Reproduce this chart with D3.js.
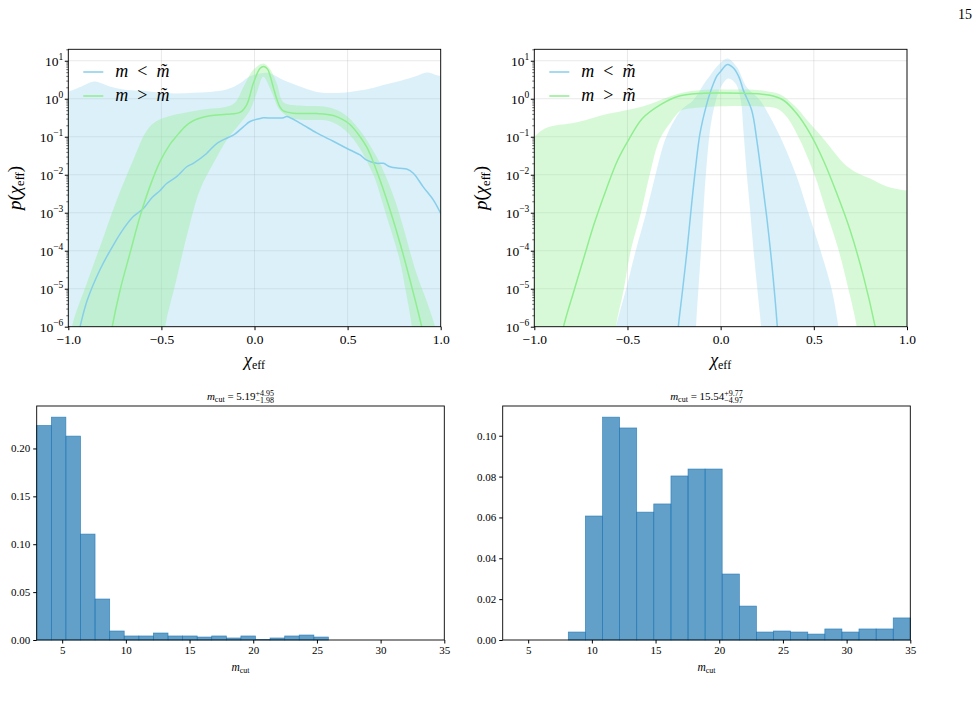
<!DOCTYPE html>
<html>
<head>
<meta charset="utf-8">
<script src="https://cdn.jsdelivr.net/npm/d3@7"></script>
<style>
  body { margin: 0; background: #fff; }
  text { font-family: "Liberation Serif", "DejaVu Serif", serif; fill: #000; }
</style>
</head>
<body>
<svg id="fig" width="978" height="702"></svg>
<script>
// chi_eff tick values for the two density panels
const chiTicks = [-1.0, -0.5, 0.0, 0.5, 1.0];
const decades = [-6, -5, -4, -3, -2, -1, 0, 1];

// left density panel: [chi_eff, log10 p]
const lowLineA = [[-0.96,-6.5],[-0.937,-6],[-0.898,-5.3],[-0.83,-4.5],[-0.758,-3.85],[-0.70,-3.4],[-0.651,-3.1],[-0.597,-2.89],[-0.55,-2.6],[-0.508,-2.42],[-0.472,-2.23],[-0.418,-2.05],[-0.364,-1.79],[-0.329,-1.7],[-0.257,-1.44],[-0.239,-1.35],[-0.203,-1.18],[-0.15,-1.04],[-0.114,-0.96],[-0.06,-0.74],[-0.024,-0.6],[0.03,-0.52],[0.047,-0.5],[0.1,-0.51],[0.155,-0.5],[0.173,-0.47],[0.244,-0.64],[0.334,-0.9],[0.423,-1.12],[0.513,-1.35],[0.567,-1.48],[0.6,-1.61],[0.656,-1.7],[0.692,-1.7],[0.728,-1.79],[0.781,-1.83],[0.817,-1.85],[0.853,-1.96],[0.906,-2.32],[0.961,-2.67],[1.0,-3.02]];
const highLineA = [[-0.78,-6.5],[-0.764,-6],[-0.722,-5.04],[-0.669,-4.07],[-0.615,-3.1],[-0.561,-2.3],[-0.507,-1.65],[-0.454,-1.2],[-0.418,-0.98],[-0.37,-0.72],[-0.329,-0.58],[-0.239,-0.45],[-0.15,-0.41],[-0.078,-0.36],[-0.042,-0.16],[-0.006,0.41],[0.03,0.8],[0.05,0.85],[0.07,0.78],[0.083,0.62],[0.101,0.3],[0.119,0.0],[0.137,-0.22],[0.155,-0.32],[0.208,-0.38],[0.334,-0.39],[0.423,-0.44],[0.475,-0.55],[0.513,-0.68],[0.567,-1.0],[0.6,-1.25],[0.62,-1.45],[0.674,-2.14],[0.728,-2.93],[0.782,-3.81],[0.835,-4.77],[0.898,-6],[0.91,-6.3]];
const lowBandUpA = [[-1.0,0.18],[-0.94,0.3],[-0.866,0.45],[-0.83,0.42],[-0.777,0.32],[-0.687,0.23],[-0.598,0.21],[-0.508,0.16],[-0.419,0.14],[-0.33,0.16],[-0.24,0.18],[-0.15,0.24],[-0.08,0.4],[-0.03,0.58],[0.02,0.66],[0.05,0.68],[0.083,0.67],[0.155,0.49],[0.244,0.32],[0.334,0.18],[0.423,0.15],[0.513,0.18],[0.6,0.24],[0.692,0.36],[0.781,0.47],[0.87,0.6],[0.925,0.69],[0.978,0.62],[1.0,0.6]];
const lowBandDownA = [[-1.0,-7],[1.0,-7]];
const highBandUpA = [[-1.0,-7],[-0.98,-6],[-0.9,-4.85],[-0.83,-3.9],[-0.74,-2.67],[-0.65,-1.6],[-0.58,-0.85],[-0.53,-0.6],[-0.45,-0.45],[-0.3,-0.3],[-0.114,-0.14],[-0.06,0.3],[-0.006,0.76],[0.047,0.93],[0.08,0.8],[0.12,0.4],[0.155,-0.09],[0.244,-0.18],[0.388,-0.22],[0.477,-0.39],[0.566,-0.83],[0.656,-1.53],[0.71,-2.1],[0.76,-2.75],[0.8,-3.4],[0.87,-4.6],[0.93,-5.4],[0.97,-6],[1.0,-6.6]];
const highBandDownA = [[-0.5,-7],[-0.48,-6],[-0.42,-4.77],[-0.36,-3.54],[-0.293,-2.4],[-0.221,-1.7],[-0.15,-1.09],[-0.078,-0.65],[-0.024,-0.3],[0.012,0.15],[0.047,0.58],[0.09,0.2],[0.137,-0.3],[0.208,-0.52],[0.388,-0.57],[0.42,-0.62],[0.477,-0.79],[0.52,-1.0],[0.566,-1.31],[0.638,-2.0],[0.656,-2.23],[0.71,-3.1],[0.78,-4.25],[0.81,-5.0],[0.845,-6],[0.86,-7],[1.0,-7]];

// right density panel
const lowLineB = [[-0.235,-6.5],[-0.227,-6],[-0.204,-5.02],[-0.18,-3.97],[-0.159,-2.93],[-0.136,-1.88],[-0.111,-0.92],[-0.079,-0.22],[-0.052,0.22],[-0.02,0.6],[0.0,0.72],[0.036,0.9],[0.07,0.8],[0.1,0.55],[0.122,0.22],[0.167,-0.31],[0.194,-1.09],[0.22,-2.05],[0.247,-3.1],[0.274,-4.32],[0.304,-6],[0.31,-6.5]];
const highLineB = [[-0.86,-6.5],[-0.843,-6],[-0.785,-5.02],[-0.732,-4.15],[-0.678,-3.28],[-0.615,-2.4],[-0.553,-1.62],[-0.49,-1.05],[-0.42,-0.52],[-0.32,-0.15],[-0.23,0.06],[-0.105,0.14],[0.0,0.15],[0.14,0.14],[0.265,0.09],[0.337,-0.04],[0.408,-0.39],[0.48,-0.92],[0.551,-1.62],[0.623,-2.49],[0.694,-3.45],[0.766,-4.67],[0.829,-6],[0.84,-6.3]];
const lowBandUpB = [[-0.6,-7],[-0.562,-6],[-0.508,-5.02],[-0.454,-3.97],[-0.4,-3.01],[-0.352,-2.05],[-0.299,-1.09],[-0.249,-0.57],[-0.204,-0.26],[-0.147,-0.04],[-0.075,0.49],[-0.004,0.93],[0.036,1.06],[0.086,0.84],[0.14,0.3],[0.211,-0.04],[0.265,-0.48],[0.328,-1.09],[0.408,-2.05],[0.471,-3.01],[0.534,-3.97],[0.596,-5.02],[0.632,-6],[0.66,-7]];
const lowBandDownB = [[-0.14,-7],[-0.132,-6],[-0.105,-3.97],[-0.079,-1.97],[-0.052,-0.66],[-0.025,-0.04],[0.0,0.3],[0.041,0.53],[0.08,0.4],[0.108,-0.04],[0.122,-0.83],[0.14,-1.97],[0.158,-2.93],[0.176,-3.97],[0.197,-5.02],[0.217,-6],[0.23,-7]];
const highBandUpB = [[-1.0,-1.0],[-0.946,-0.79],[-0.88,-0.7],[-0.82,-0.66],[-0.732,-0.57],[-0.642,-0.44],[-0.553,-0.35],[-0.463,-0.26],[-0.374,-0.13],[-0.284,0.04],[-0.195,0.17],[-0.1,0.23],[0.1,0.24],[0.2,0.23],[0.247,0.2],[0.318,0.12],[0.4,-0.2],[0.47,-0.6],[0.534,-0.95],[0.6,-1.35],[0.66,-1.7],[0.713,-1.9],[0.802,-2.1],[0.892,-2.31],[1.0,-2.42]];
const highBandDownB = [[-1.0,-7],[-0.58,-7],[-0.562,-6],[-0.52,-5.02],[-0.481,-3.97],[-0.428,-3.01],[-0.383,-2.05],[-0.329,-1.09],[-0.267,-0.61],[-0.213,-0.31],[-0.15,-0.25],[0.0,-0.2],[0.2,-0.2],[0.301,-0.26],[0.355,-0.48],[0.426,-1.09],[0.507,-2.05],[0.569,-3.01],[0.632,-3.97],[0.686,-5.02],[0.73,-6],[0.75,-7],[1.0,-7]];

// m_cut histograms
const cutTicks = [5, 10, 15, 20, 25, 30, 35];
const edgesLeft = [3.00,4.15,5.29,6.44,7.58,8.73,9.87,11.02,12.16,13.31,14.45,15.60,16.74,17.89,19.03,20.18,21.32,22.47,23.61,24.76,25.90];
const densLeft = [0.224,0.2327,0.2129,0.1106,0.0428,0.0094,0.0042,0.0042,0.0073,0.0042,0.0042,0.0031,0.0042,0.0021,0.0042,0.0004,0.0021,0.0042,0.0052,0.0031];
const yTicksLeft = [0, 0.05, 0.10, 0.15, 0.20];
const edgesRight = [8.15,9.49,10.84,12.18,13.52,14.86,16.21,17.55,18.89,20.23,21.58,22.92,24.26,25.60,26.95,28.29,29.63,30.97,32.32,33.66,35.00];
const densRight = [0.0039,0.0607,0.1091,0.1038,0.0626,0.0666,0.0803,0.0837,0.0837,0.0323,0.0166,0.0039,0.0044,0.0039,0.0029,0.0054,0.0039,0.0054,0.0054,0.0108];
const yTicksRight = [0, 0.02, 0.04, 0.06, 0.08, 0.10];

const BLUE = "#87ceeb", GREEN = "#90ee90", BAR = "#1f77b4";
const svg = d3.select("#fig");
const serif = '"Liberation Serif", "DejaVu Serif", serif';

svg.append("text").attr("x", 972).attr("y", 19).attr("text-anchor", "end")
  .attr("font-size", 14).text("15");

function densityPanel(id, box, s) {
  const x = d3.scaleLinear().domain([-1, 1]).range([box.left, box.right]);
  const y = d3.scaleLog().domain([1e-6, 20]).range([box.bottom, box.top]);
  const g = svg.append("g");
  g.append("clipPath").attr("id", id).append("rect")
    .attr("x", box.left).attr("y", box.top)
    .attr("width", box.right - box.left).attr("height", box.bottom - box.top);

  // grid
  const grid = g.append("g").attr("stroke", "#b0b0b0").attr("stroke-opacity", 0.35).attr("stroke-width", 0.8);
  grid.selectAll(".gx").data(chiTicks).join("line")
    .attr("x1", d => x(d)).attr("x2", d => x(d)).attr("y1", box.top).attr("y2", box.bottom);
  grid.selectAll(".gy").data(decades).join("line")
    .attr("y1", d => y(10 ** d)).attr("y2", d => y(10 ** d)).attr("x1", box.left).attr("x2", box.right);

  const line = d3.line().x(d => x(d[0])).y(d => y(10 ** d[1])).curve(d3.curveCatmullRom.alpha(0.5));
  const band = (up, down) => line(up) + "L" + line(down.slice().reverse()).slice(1) + "Z";
  const plot = g.append("g").attr("clip-path", `url(#${id})`);
  plot.append("path").attr("d", band(s.lowUp, s.lowDown)).attr("fill", BLUE).attr("fill-opacity", 0.3);
  plot.append("path").attr("d", band(s.highUp, s.highDown)).attr("fill", GREEN).attr("fill-opacity", 0.35);
  plot.append("path").attr("d", line(s.low)).attr("fill", "none").attr("stroke", BLUE).attr("stroke-width", 1.5);
  plot.append("path").attr("d", line(s.high)).attr("fill", "none").attr("stroke", GREEN).attr("stroke-width", 1.5);

  // axes
  const ax = g.append("g").attr("transform", `translate(0,${box.bottom})`)
    .call(d3.axisBottom(x).tickValues(chiTicks).tickSize(3.5).tickPadding(4).tickFormat(d3.format(".1f")));
  ax.attr("font-family", serif).attr("font-size", 13.5);
  ax.select(".domain").remove();

  const minors = [];
  decades.forEach(k => { for (let m = 2; m < 10; m++) { if (m * 10 ** k <= 20) minors.push(m * 10 ** k); } });
  const ay = g.append("g").attr("transform", `translate(${box.left},0)`)
    .call(d3.axisLeft(y).tickValues(decades.map(k => 10 ** k)).tickSize(3.5).tickFormat(""));
  ay.select(".domain").remove();
  const am = g.append("g").attr("transform", `translate(${box.left},0)`)
    .call(d3.axisLeft(y).tickValues(minors).tickSize(2).tickFormat(""));
  am.select(".domain").remove();
  am.selectAll("line").attr("stroke-width", 0.6);

  const lab = g.append("g").attr("font-size", 13.5).attr("text-anchor", "end");
  decades.forEach(k => {
    const t = lab.append("text").attr("x", box.left - 5).attr("y", y(10 ** k) + 5);
    t.append("tspan").text("10");
    t.append("tspan").attr("font-size", 9.5).attr("dy", -6).text(String(k).replace("-", "\u2212"));
  });

  g.append("rect").attr("x", box.left).attr("y", box.top)
    .attr("width", box.right - box.left).attr("height", box.bottom - box.top)
    .attr("fill", "none").attr("stroke", "#000").attr("stroke-width", 0.9);

  // x label
  const xl = g.append("text").attr("x", (box.left + box.right) / 2).attr("y", 366)
    .attr("text-anchor", "middle").attr("font-size", 18);
  xl.append("tspan").attr("font-style", "italic").text("\u03c7");
  xl.append("tspan").attr("font-size", 12).attr("dy", 3).text("eff");

  // y label
  const yl = g.append("text").attr("transform", `translate(${box.left - 47},188) rotate(-90)`)
    .attr("text-anchor", "middle").attr("font-size", 19);
  yl.append("tspan").attr("font-style", "italic").text("p");
  yl.append("tspan").text("(");
  yl.append("tspan").attr("font-style", "italic").text("\u03c7");
  yl.append("tspan").attr("font-size", 12.5).attr("dy", 3).text("eff");
  yl.append("tspan").attr("dy", -3).text(")");

  // legend
  [[BLUE, "<", 72], [GREEN, ">", 96]].forEach(([c, op, ly]) => {
    g.append("line").attr("x1", box.left + 15).attr("x2", box.left + 35).attr("y1", ly).attr("y2", ly)
      .attr("stroke", c).attr("stroke-width", 1.5);
    const t = g.append("text").attr("x", box.left + 47).attr("y", ly + 5).attr("font-size", 18);
    t.append("tspan").attr("font-style", "italic").text("m");
    t.append("tspan").text("\u2002" + op + "\u2002");
    t.append("tspan").attr("font-style", "italic").text("m\u0303");
  });
}

densityPanel("clipA", { left: 68.3, right: 440.7, top: 49.3, bottom: 326.7 },
  { low: lowLineA, high: highLineA, lowUp: lowBandUpA, lowDown: lowBandDownA, highUp: highBandUpA, highDown: highBandDownA });
densityPanel("clipB", { left: 534.3, right: 907, top: 49.3, bottom: 326.7 },
  { low: lowLineB, high: highLineB, lowUp: lowBandUpB, lowDown: lowBandDownB, highUp: highBandUpB, highDown: highBandDownB });

function histPanel(box, edges, dens, yTicks, title) {
  const x = d3.scaleLinear().domain([3, 35]).range([box.left, box.right]);
  const y = d3.scaleLinear().domain([0, d3.max(dens) * 1.05]).range([box.bottom, box.top]);
  const g = svg.append("g");
  const bins = dens.map((v, i) => ({ x0: edges[i], x1: edges[i + 1], v }));
  g.selectAll("rect.bar").data(bins).join("rect").attr("class", "bar")
    .attr("x", d => x(d.x0)).attr("width", d => x(d.x1) - x(d.x0))
    .attr("y", d => y(d.v)).attr("height", d => y(0) - y(d.v))
    .attr("fill", BAR).attr("fill-opacity", 0.7)
    .attr("stroke", BAR).attr("stroke-opacity", 0.8).attr("stroke-width", 0.7);

  const ax = g.append("g").attr("transform", `translate(0,${box.bottom})`)
    .call(d3.axisBottom(x).tickValues(cutTicks).tickSize(3.5).tickPadding(3));
  ax.attr("font-family", serif).attr("font-size", 11);
  ax.select(".domain").remove();
  const ay = g.append("g").attr("transform", `translate(${box.left},0)`)
    .call(d3.axisLeft(y).tickValues(yTicks).tickSize(3.5).tickPadding(3).tickFormat(d3.format(".2f")));
  ay.attr("font-family", serif).attr("font-size", 11);
  ay.select(".domain").remove();

  g.append("rect").attr("x", box.left).attr("y", box.top)
    .attr("width", box.right - box.left).attr("height", box.bottom - box.top)
    .attr("fill", "none").attr("stroke", "#000").attr("stroke-width", 0.9);

  const cx = (box.left + box.right) / 2;
  const xl = g.append("text").attr("x", cx).attr("y", 671).attr("text-anchor", "middle").attr("font-size", 11.5);
  xl.append("tspan").attr("font-style", "italic").text("m");
  xl.append("tspan").attr("font-size", 8).attr("dy", 2).text("cut");

  // title with stacked errors
  const yb = 400;
  const t = g.append("text").attr("y", yb).attr("font-size", 11);
  t.append("tspan").attr("font-style", "italic").text("m");
  t.append("tspan").attr("font-size", 8).attr("dy", 2).text("cut");
  t.append("tspan").attr("dy", -2).text("\u00a0=\u00a0" + title[0]);
  const sup = g.append("text").attr("y", yb - 4.5).attr("font-size", 8).text("+" + title[1]);
  const sub = g.append("text").attr("y", yb + 3).attr("font-size", 8).text("\u2212" + title[2]);
  const w = t.node().getComputedTextLength();
  const sw = Math.max(sup.node().getComputedTextLength(), sub.node().getComputedTextLength());
  const x0 = cx - (w + sw) / 2;
  t.attr("x", x0); sup.attr("x", x0 + w); sub.attr("x", x0 + w);
}

histPanel({ left: 36.7, right: 444.3, top: 406, bottom: 640 }, edgesLeft, densLeft, yTicksLeft, ["5.19", "4.95", "1.98"]);
histPanel({ left: 502.7, right: 910.3, top: 406, bottom: 640 }, edgesRight, densRight, yTicksRight, ["15.54", "9.77", "4.97"]);
</script>
</body>
</html>
